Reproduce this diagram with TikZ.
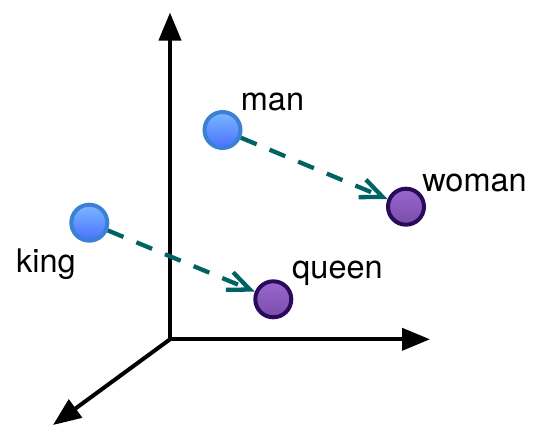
\documentclass[tikz,border=0pt]{standalone}
\usepackage{fontspec}
\setmainfont{TeX Gyre Heros}
\usetikzlibrary{arrows.meta}
\definecolor{bluetop}{HTML}{7BB8FF}
\definecolor{bluebot}{HTML}{4A70FF}
\definecolor{bluedraw}{HTML}{3A80D4}
\definecolor{purtop}{HTML}{9A66D0}
\definecolor{purbot}{HTML}{7A4EA8}
\definecolor{purdraw}{HTML}{2A0A5A}
\definecolor{teal}{HTML}{006262}
\tikzset{
  axis/.style={line width=4pt, draw=black, -{Triangle[length=28pt,width=22pt]}},
  bluedot/.style={circle, minimum size=36pt, inner sep=0pt, line width=4pt, draw=bluedraw, top color=bluetop, bottom color=bluebot},
  purdot/.style={circle, minimum size=36pt, inner sep=0pt, line width=4pt, draw=purdraw, top color=purtop, bottom color=purbot},
  vecarrow/.style={line width=4.3pt, draw=teal, dash pattern=on 17pt off 14pt, -{Straight Barb[length=22pt,width=19pt]}},
  wordlabel/.style={anchor=base, inner sep=0pt, font=\fontsize{32.5}{38}\selectfont}
}
\begin{document}
\begin{tikzpicture}[x=1pt,y=-1pt]
\useasboundingbox (0,0) rectangle (539,426);
% axes
\coordinate (O) at (170,339.3);
\coordinate (Ytip) at (170,12.5);
\coordinate (Xtip) at (430,339.3);
\coordinate (Ztip) at (53,425);
\draw[axis] (O) -- (Ytip);
\draw[axis] (O) -- (Xtip);
\draw[axis] (O) -- (Ztip);
% points
\node[bluedot] (man) at (222.5,130) {};
\node[purdot] (woman) at (406,206.7) {};
\node[bluedot] (king) at (89.3,222.7) {};
\node[purdot] (queen) at (273.3,299.3) {};
% vectors
\draw[vecarrow] (man) -- (woman);
\draw[vecarrow] (king) -- (queen);
% labels
\node[wordlabel] (lman) at (272.5,110) {man};
\node[wordlabel] (lwoman) at (474.5,191) {woman};
\node[wordlabel] (lking) at (46,272) {king};
\node[wordlabel] (lqueen) at (337.5,278) {queen};
\end{tikzpicture}
\end{document}
